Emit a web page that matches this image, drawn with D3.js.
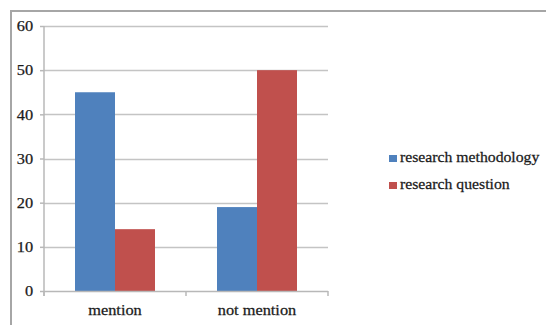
<!DOCTYPE html>
<html>
<head>
<meta charset="utf-8">
<script src="https://cdn.jsdelivr.net/npm/d3@7"></script>
<style>
  html, body { margin: 0; padding: 0; background: #fff; }
  svg { display: block; }
</style>
</head>
<body>
<svg id="chart" width="546" height="325"></svg>
<script>
const categories = ["mention", "not mention"];
const seriesNames = ["research methodology", "research question"];
const methodology = [45, 19];
const question = [14, 50];
const yTicks = [0, 10, 20, 30, 40, 50, 60];
const colors = ["#4f81bd", "#c0504d"];

const FONT = "'Liberation Serif', 'Times New Roman', 'DejaVu Serif', serif";
const TEXT_SCALE = "scale(1.09,1)";
const LEGEND_SCALE = "scale(1.05,1)";
const svg = d3.select("#chart");
const W = 546, H = 325;

function styleText(sel) {
  sel.style("font-size", "15px").style("font-family", FONT)
    .attr("fill", "#1a1a1a").attr("stroke", "#1a1a1a").attr("stroke-width", 0.25);
}

// outer chart frame (open on right and bottom)
svg.append("path")
  .attr("d", `M11,${H} L11,11 L${W},11`)
  .attr("fill", "none")
  .attr("stroke", "#a6a6a6")
  .attr("stroke-width", 2);

const plot = { left: 44, right: 328, top: 26, bottom: 291 };

const x = d3.scaleBand().domain(categories).range([plot.left, plot.right]).paddingInner(0).paddingOuter(0);
const xs = d3.scaleBand().domain(seriesNames).range([0, x.bandwidth()]).paddingInner(0).paddingOuter(0.775);
const y = d3.scaleLinear().domain([0, 60]).range([plot.bottom, plot.top]);

// horizontal gridlines
svg.append("g").selectAll("line").data(yTicks.filter(t => t > 0)).join("line")
  .attr("x1", plot.left).attr("x2", plot.right)
  .attr("y1", d => Math.round(y(d)) + 0.5).attr("y2", d => Math.round(y(d)) + 0.5)
  .attr("stroke", "#c4c4c4").attr("stroke-width", 1.5);

// y axis
const yAxis = d3.axisLeft(y).tickValues(yTicks).tickSize(4).tickPadding(6);
const gy = svg.append("g").attr("transform", `translate(${plot.left},0)`).call(yAxis);
gy.select(".domain").attr("d", `M0,${plot.top} V${plot.bottom + 5}`).attr("stroke", "#b8b8b8").attr("stroke-width", 1.5);
gy.selectAll(".tick line").attr("stroke", "#b8b8b8").attr("stroke-width", 1.5);
gy.selectAll(".tick text").call(styleText).attr("transform", TEXT_SCALE);

// bars
const series = [methodology, question];
series.forEach((vals, si) => {
  svg.append("g").selectAll("rect").data(categories.map((c, i) => ({ c, v: vals[i] }))).join("rect")
    .attr("x", d => x(d.c) + xs(seriesNames[si]))
    .attr("width", xs.bandwidth())
    .attr("y", d => y(d.v))
    .attr("height", d => y(0) - y(d.v))
    .attr("fill", colors[si]);
});

// x axis
const xAxis = d3.axisBottom(x).tickSize(0).tickPadding(13);
const gx = svg.append("g").attr("transform", `translate(0,${plot.bottom})`).call(xAxis);
gx.select(".domain").attr("d", `M${plot.left},0.5 H${plot.right}`).attr("stroke", "#b8b8b8").attr("stroke-width", 1.5);
gx.selectAll(".tick text").call(styleText).attr("transform", TEXT_SCALE);
// category boundary ticks
const bounds = [plot.left, ...categories.slice(1).map(c => x(c)), plot.right];
gx.append("g").selectAll("line").data(bounds).join("line")
  .attr("x1", d => d).attr("x2", d => d)
  .attr("y1", 0).attr("y2", 5)
  .attr("stroke", "#b8b8b8").attr("stroke-width", 1.5);

// legend
const legend = svg.append("g").attr("transform", "translate(389,157)");
seriesNames.forEach((name, i) => {
  const g = legend.append("g").attr("transform", `translate(0,${i * 27})`);
  g.append("rect").attr("x", 0).attr("y", -2).attr("width", 8).attr("height", 7).attr("fill", colors[i]);
  g.append("text").attr("transform", `translate(11,5) ${LEGEND_SCALE}`).call(styleText).text(name);
});
</script>
</body>
</html>
